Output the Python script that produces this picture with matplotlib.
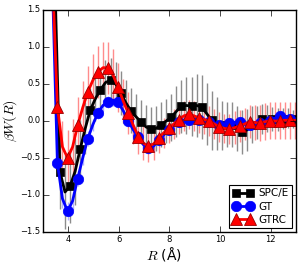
import numpy as np
import matplotlib
matplotlib.use("Agg")
import matplotlib.pyplot as plt

# SPC/E (black squares)
spc_x = [3.47, 3.67, 3.87, 4.07, 4.27, 4.47, 4.67, 4.87, 5.07, 5.27, 5.47, 5.67, 5.87, 6.07, 6.27,
         6.47, 6.67, 6.87, 7.07, 7.27, 7.47, 7.67, 7.87, 8.07, 8.27, 8.47, 8.67, 8.87, 9.07, 9.27,
         9.47, 9.67, 9.87, 10.07, 10.27, 10.47, 10.67, 10.87, 11.07, 11.27, 11.47, 11.67, 11.87,
         12.07, 12.27, 12.47, 12.67, 12.87]
spc_y = [1.9, -0.685, -0.96, -0.88, -0.68, -0.38, -0.10, 0.15, 0.30, 0.42, 0.52, 0.55, 0.50, 0.38, 0.25,
         0.14, 0.06, -0.01, -0.08, -0.11, -0.10, -0.05, 0.00, 0.05, 0.13, 0.20, 0.21, 0.20, 0.21, 0.19,
         0.10, 0.01, -0.03, -0.06, -0.05, -0.05, -0.10, -0.15, -0.12, -0.05, -0.02, 0.03, 0.03,
         0.03, 0.02, 0.03, 0.04, 0.03]
spc_e = [0.5, 0.5, 0.5, 0.5, 0.45, 0.4, 0.35, 0.3, 0.3, 0.3, 0.3, 0.3, 0.3, 0.3, 0.3,
         0.3, 0.3, 0.3, 0.3, 0.3, 0.3, 0.3, 0.3, 0.32, 0.34, 0.36, 0.38, 0.4, 0.42, 0.43,
         0.42, 0.4, 0.36, 0.33, 0.3, 0.3, 0.3, 0.3, 0.28, 0.25, 0.22, 0.2, 0.18,
         0.16, 0.15, 0.14, 0.13, 0.12]

# GT (blue circles)
gt_x = [3.37, 3.57, 3.77, 3.97, 4.17, 4.37, 4.57, 4.77, 4.97, 5.17, 5.37, 5.57, 5.77, 5.97, 6.17,
        6.37, 6.57, 6.77, 6.97, 7.17, 7.37, 7.57, 7.77, 7.97, 8.17, 8.37, 8.57, 8.77, 8.97, 9.17,
        9.37, 9.57, 9.77, 9.97, 10.17, 10.37, 10.57, 10.77, 10.97, 11.17, 11.37, 11.57, 11.77,
        11.97, 12.17, 12.37, 12.57, 12.77, 12.97]
gt_y = [1.9, -0.57, -1.05, -1.22, -1.08, -0.78, -0.50, -0.24, -0.05, 0.11, 0.21, 0.26, 0.28, 0.25, 0.14,
        0.00, -0.12, -0.22, -0.32, -0.36, -0.34, -0.26, -0.19, -0.12, -0.06, -0.01, 0.01, 0.01, 0.02, 0.01,
        0.00, -0.02, -0.04, -0.05, -0.05, -0.03, -0.02, -0.02, -0.03, -0.05, -0.05, -0.03, -0.01,
        0.00, 0.04, 0.07, 0.06, 0.03, 0.02]
gt_e = [0.1, 0.1, 0.12, 0.12, 0.12, 0.1, 0.1, 0.1, 0.08, 0.08, 0.08, 0.08, 0.08, 0.08, 0.08,
        0.08, 0.08, 0.08, 0.08, 0.08, 0.08, 0.08, 0.06, 0.06, 0.06, 0.06, 0.06, 0.06, 0.06, 0.06,
        0.05, 0.05, 0.05, 0.05, 0.05, 0.05, 0.05, 0.05, 0.05, 0.05, 0.05, 0.05, 0.05,
        0.05, 0.05, 0.05, 0.05, 0.05, 0.05]

# GTRC (red triangles)
gtrc_x = gt_x
gtrc_y = [2.0, 0.19, -0.35, -0.50, -0.35, -0.06, 0.18, 0.39, 0.55, 0.66, 0.72, 0.72, 0.62, 0.455, 0.27,
          0.11, -0.06, -0.21, -0.30, -0.34, -0.31, -0.23, -0.16, -0.10, -0.04, 0.02, 0.07, 0.09, 0.07, 0.04,
          0.02, 0.00, -0.04, -0.08, -0.10, -0.11, -0.09, -0.07, -0.04, -0.01, -0.02, -0.03, -0.01,
          0.00, 0.00, 0.00, 0.01, 0.01, 0.01]
gtrc_e = [0.3, 0.3, 0.35, 0.38, 0.38, 0.38, 0.36, 0.35, 0.35, 0.35, 0.35, 0.35, 0.35, 0.33, 0.3,
          0.28, 0.25, 0.24, 0.23, 0.22, 0.22, 0.2, 0.2, 0.2, 0.2, 0.2, 0.2, 0.2, 0.2, 0.2,
          0.2, 0.2, 0.2, 0.2, 0.2, 0.2, 0.22, 0.22, 0.22, 0.22, 0.24, 0.24, 0.25,
          0.25, 0.25, 0.25, 0.25, 0.25, 0.25]

labels = ["SPC/E", "GT", "GTRC"]
xticks = [4, 6, 8, 10, 12]
yticks = [-1.5, -1.0, -0.5, 0.0, 0.5, 1.0, 1.5]

plt.style.use("classic")
fig = plt.figure(figsize=(3.04, 2.63), dpi=100)
fig.patch.set_facecolor("white")
ax = fig.add_axes([0.1414, 0.1179, 0.9737 - 0.1414, 0.962 - 0.1179])

ax.errorbar(spc_x, spc_y, yerr=spc_e, fmt="none", ecolor="black", alpha=0.45, elinewidth=1.0, capsize=0)
ax.errorbar(gt_x, gt_y, yerr=gt_e, fmt="none", ecolor="blue", alpha=0.3, elinewidth=1.0, capsize=0)
ax.errorbar(gtrc_x, gtrc_y, yerr=gtrc_e, fmt="none", ecolor="red", alpha=0.45, elinewidth=1.0, capsize=0)

ax.plot(spc_x, spc_y, color="black", lw=2, marker="s", markersize=6, markevery=(1, 2),
        markerfacecolor="black", markeredgecolor="black", label=labels[0])
ax.plot(gt_x, gt_y, color="blue", lw=2, marker="o", markersize=7.5, markevery=(1, 2),
        markerfacecolor="blue", markeredgecolor="blue", label=labels[1])
ax.plot(gtrc_x, gtrc_y, color="red", lw=2, marker="^", markersize=8, markevery=(1, 2),
        markerfacecolor="red", markeredgecolor="#990000", markeredgewidth=0.6, label=labels[2])

ax.set_xlim(3, 13)
ax.set_ylim(-1.5, 1.5)
ax.set_xticks(xticks)
ax.set_yticks(yticks)
ax.tick_params(labelsize=6, direction="in", length=4, top=True, right=True, pad=2)
ax.set_xlabel(r"$R$ (Å)", fontsize=10)
ax.set_ylabel(r"$\beta W(R)$", fontsize=10)
ax.xaxis.set_label_coords(0.48, -0.058, transform=ax.transAxes)
ax.yaxis.set_label_coords(-0.095, 0.5, transform=ax.transAxes)

leg = ax.legend(loc="lower right", fontsize=7.5, numpoints=2, frameon=True, borderpad=0.3,
                handlelength=2.0, labelspacing=0.3, handletextpad=0.5, borderaxespad=0.4)
leg.get_frame().set_linewidth(0.8)

fig.savefig("out.png", dpi=100, facecolor="white")
